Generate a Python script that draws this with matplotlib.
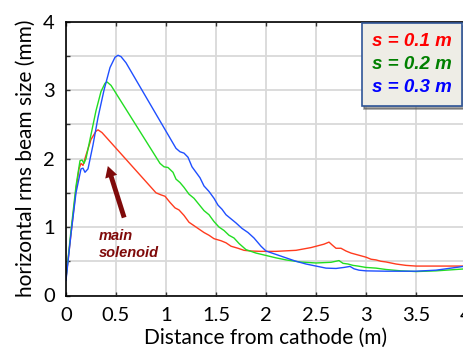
import numpy as np
import matplotlib.pyplot as plt
from matplotlib.lines import Line2D

# beam size along the beamline for three solenoid positions
x_red = [0.0, 0.05, 0.1, 0.13, 0.15, 0.17, 0.2, 0.25, 0.3, 0.32, 0.36, 0.9, 0.95, 0.99, 1.04,
         1.09, 1.13, 1.18, 1.23, 1.27, 1.33, 1.38, 1.43, 1.48, 1.55, 1.6, 1.65, 1.72, 1.78,
         1.85, 1.95, 2.1, 2.3, 2.45, 2.58, 2.63, 2.66, 2.7, 2.75, 2.8, 2.85, 2.9, 2.95, 3.0,
         3.05, 3.1, 3.15, 3.2, 3.3, 3.4, 3.5, 3.7, 4.0]
y_red = [0.25, 0.9, 1.55, 1.85, 1.93, 1.9, 2.05, 2.28, 2.4, 2.42, 2.38, 1.5, 1.47, 1.45, 1.36,
         1.28, 1.25, 1.17, 1.07, 1.03, 0.97, 0.92, 0.88, 0.83, 0.8, 0.77, 0.72, 0.69, 0.66,
         0.65, 0.645, 0.645, 0.66, 0.7, 0.75, 0.78, 0.74, 0.69, 0.69, 0.65, 0.62, 0.6, 0.58,
         0.56, 0.53, 0.52, 0.5, 0.49, 0.46, 0.44, 0.43, 0.43, 0.43]

x_green = [0.0, 0.05, 0.1, 0.14, 0.16, 0.18, 0.2, 0.25, 0.3, 0.35, 0.39, 0.41, 0.45, 0.94,
           0.98, 1.02, 1.07, 1.1, 1.14, 1.18, 1.23, 1.28, 1.33, 1.38, 1.43, 1.48, 1.53, 1.58,
           1.63, 1.68, 1.73, 1.8, 1.9, 2.0, 2.1, 2.2, 2.34, 2.5, 2.65, 2.73, 2.77, 2.82, 2.87,
           2.92, 3.0, 3.1, 3.2, 3.35, 3.5, 3.7, 4.0]
y_green = [0.25, 0.95, 1.6, 1.97, 1.98, 1.93, 2.0, 2.35, 2.7, 2.98, 3.1, 3.12, 3.07, 1.93,
           1.88, 1.87, 1.8, 1.7, 1.65, 1.58, 1.48, 1.42, 1.33, 1.24, 1.18, 1.08, 1.0, 0.95,
           0.88, 0.84, 0.76, 0.67, 0.62, 0.585, 0.55, 0.52, 0.49, 0.475, 0.485, 0.51, 0.47,
           0.46, 0.44, 0.43, 0.41, 0.4, 0.38, 0.36, 0.35, 0.36, 0.39]

x_blue = [0.0, 0.05, 0.1, 0.15, 0.17, 0.19, 0.22, 0.27, 0.32, 0.38, 0.44, 0.49, 0.52, 0.55,
          0.6, 1.1, 1.14, 1.18, 1.22, 1.26, 1.3, 1.34, 1.38, 1.43, 1.48, 1.52, 1.56, 1.6,
          1.65, 1.7, 1.76, 1.82, 1.88, 1.95, 2.0, 2.1, 2.2, 2.3, 2.4, 2.5, 2.6, 2.7, 2.78,
          2.84, 2.88, 2.93, 3.0, 3.2, 3.5, 3.7, 4.0]
y_blue = [0.22, 0.9, 1.5, 1.85, 1.86, 1.8, 1.85, 2.2, 2.6, 3.0, 3.33, 3.48, 3.51, 3.49,
          3.4, 2.15, 2.1, 2.08, 2.02, 1.88, 1.8, 1.72, 1.6, 1.52, 1.42, 1.32, 1.26, 1.18,
          1.12, 1.06, 0.98, 0.92, 0.84, 0.72, 0.65, 0.6, 0.55, 0.5, 0.46, 0.43, 0.4, 0.395,
          0.41, 0.425, 0.39, 0.37, 0.36, 0.355, 0.355, 0.37, 0.43]

labels = ["s = 0.1 m", "s = 0.2 m", "s = 0.3 m"]
label_colors = ["#ff0000", "#008000", "#0000ff"]

W, H = 463, 353
fig = plt.figure(figsize=(W / 100, H / 100), dpi=100)
ax = fig.add_axes([66 / W, 1 - 295.5 / H, 400 / W, 273.8 / H])

ax.plot(x_red, y_red, color="#ff3b1e", lw=1.0)
ax.plot(x_green, y_green, color="#22dd22", lw=1.0)
ax.plot(x_blue, y_blue, color="#1f4fff", lw=1.0)

ax.set_xlim(0, 4)
ax.set_ylim(0, 4)
ax.set_xticks(np.arange(0, 4.01, 0.5))
ax.set_xticklabels(["0", "0.5", "1", "1.5", "2", "2.5", "3", "3.5", "4"])
ax.set_yticks(np.arange(0, 4.01, 0.5))
ax.set_yticklabels(["0", "", "1", "", "2", "", "3", "", "4"])
ax.grid(True, color="#d9d9d9", lw=1.3)
ax.set_axisbelow(True)
ax.tick_params(direction="in", length=3, width=1, top=True, labelsize=14.5, pad=8,
               colors="#333333", labelcolor="black")
for t in ax.get_xticklabels() + ax.get_yticklabels():
    t.set_family("Lato")
for sp in ["left", "bottom", "top"]:
    ax.spines[sp].set_linewidth(1.2)
ax.spines["right"].set_visible(False)

ax.set_xlabel("Distance from cathode (m)", fontsize=15, family="Lato", labelpad=3)
ax.set_ylabel("horizontal rms beam size (mm)", fontsize=15, family="Lato", labelpad=5)

# annotation
ax.annotate("", xy=(0.41, 1.93), xytext=(0.59, 1.1),
            arrowprops=dict(arrowstyle="simple,head_width=0.9,head_length=0.8,tail_width=0.35",
                            color="#7f0a0a", lw=0))
ax.text(0.33, 0.74, "main\nsolenoid", color="#7f0a0a", fontsize=10.5, fontweight="bold",
        fontstyle="italic", family="Liberation Sans", ha="left", va="center", linespacing=1.25)

handles = [Line2D([], [], lw=0) for _ in labels]
leg = ax.legend(handles, labels, loc="upper right", bbox_to_anchor=(462 / W, 1 - 23 / H),
                bbox_transform=fig.transFigure, borderaxespad=0, handlelength=0,
                handletextpad=0, labelcolor=label_colors, frameon=True, fancybox=False,
                shadow=True, borderpad=0.55, labelspacing=0.3,
                prop=dict(family="Liberation Sans", weight="bold", style="italic", size=13.5))
leg.get_frame().set_facecolor("#eeede6")
leg.get_frame().set_edgecolor("#2f5597")
leg.get_frame().set_linewidth(1.2)
leg.get_frame().set_alpha(1)

fig.savefig("out.png", dpi=100)
